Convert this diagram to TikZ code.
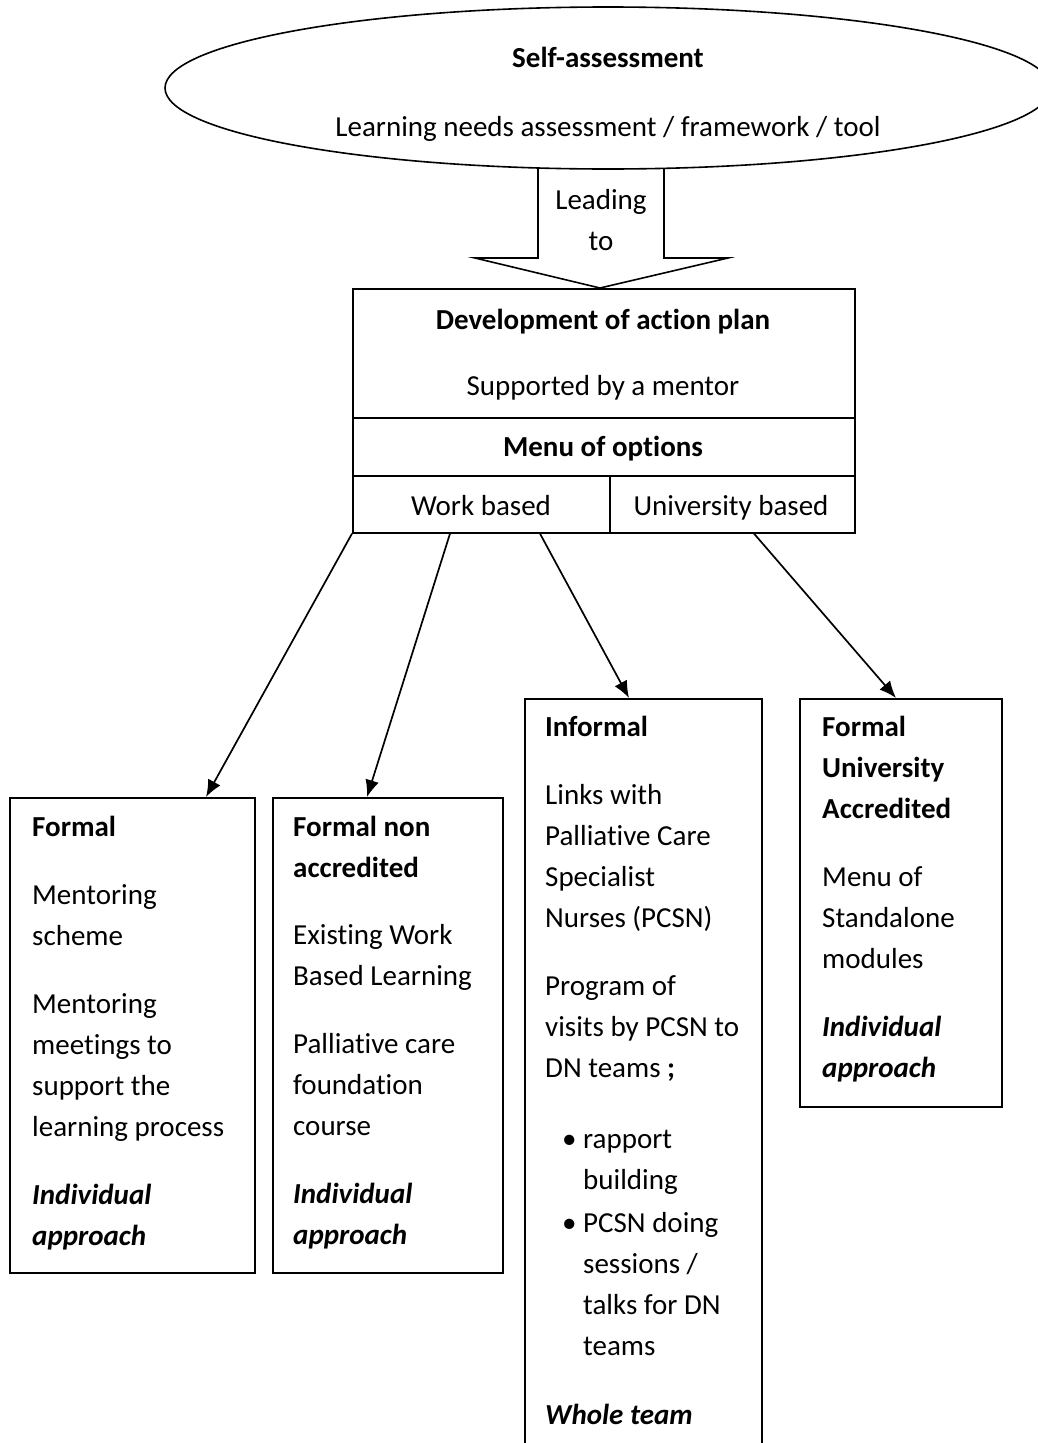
\documentclass[tikz,border=0pt]{standalone}
\usepackage{fontspec}
\setmainfont[Ligatures=NoCommon]{Carlito}
\usetikzlibrary{shapes.geometric,arrows.meta}
\tikzset{
  lw/.style={line width=1.6pt},
  boxnode/.style={draw, line width=1.6pt, rectangle, inner sep=0pt, anchor=north west},
  txt/.style={inner sep=0pt, font=\fontsize{29pt}{41pt}\selectfont},
  ctxt/.style={txt, anchor=mid, yshift=-7pt},
  boxtxt/.style={txt, anchor=base west, text width=260pt, align=flush left},
  arr/.style={-{Latex[length=17pt,width=14pt]}, line width=1.7pt},
}
\begin{document}
\begin{tikzpicture}[x=1pt,y=-1pt]
\useasboundingbox (0,0) rectangle (1038,1443);
% ellipse
\node[draw, ellipse, lw, minimum width=886pt, minimum height=162pt, inner sep=0pt] (ell) at (608,88) {};
\node[ctxt] (selfa) at (608,58) {\textbf{Self-assessment}};
\node[ctxt] (lna) at (608,127) {Learning needs assessment / framework / tool};
% block arrow
\draw[lw] (538,168) -- (538,258) -- (475,258) -- (600,288) -- (728,258) -- (664,258) -- (664,168);
\node[ctxt] (lead1) at (601,200) {Leading};
\node[ctxt] (lead2) at (601,241) {to};
% main box
\node[boxnode, minimum width=502pt, minimum height=244pt] (main) at (352,288) {};
\draw[lw] (352,418) -- (854,418);
\draw[lw] (352,476) -- (854,476);
\draw[lw] (610,476) -- (610,532);
\node[ctxt] (dev) at (603,320) {\textbf{Development of action plan}};
\node[ctxt] (sup) at (603,386) {Supported by a mentor};
\node[ctxt] (menu) at (603,447) {\textbf{Menu of options}};
\node[ctxt] (work) at (481,506) {Work based};
\node[ctxt] (univb) at (731,506) {University based};
% lower boxes
\node[boxnode, minimum width=245pt, minimum height=475pt] (formal) at (9,797) {};
\node[boxnode, minimum width=230pt, minimum height=475pt] (nonacc) at (272,797) {};
\node[boxnode, minimum width=237pt, minimum height=780pt] (informal) at (524,698) {};
\node[boxnode, minimum width=202pt, minimum height=408pt] (univ) at (799,698) {};
% texts
\node[boxtxt] (formaltxt) at (32,836) {\textbf{Formal}\\[27pt]Mentoring\\scheme\\[27pt]Mentoring\\meetings to\\support the\\learning process\\[27pt]\textbf{\textit{Individual}}\\\textbf{\textit{approach}}};
\node[boxtxt] (nonacctxt) at (293,836) {\textbf{Formal non}\\\textbf{accredited}\\[26pt]Existing Work\\Based Learning\\[27pt]Palliative care\\foundation\\course\\[27pt]\textbf{\textit{Individual}}\\\textbf{\textit{approach}}};
\node[boxtxt] (informaltxt) at (545,736) {\textbf{Informal}\\[27pt]Links with\\Palliative Care\\Specialist\\Nurses (PCSN)\\[27pt]Program of\\visits by PCSN to\\DN teams \textbf{;}\\[30pt]\hspace*{17pt}\makebox[21pt][l]{•}rapport\\\hspace*{38pt}building\\[2pt]\hspace*{17pt}\makebox[21pt][l]{•}PCSN doing\\\hspace*{38pt}sessions /\\\hspace*{38pt}talks for DN\\\hspace*{38pt}teams\\[28pt]\textbf{\textit{Whole team}}};
\node[boxtxt] (univtxt) at (822,736) {\textbf{Formal}\\\textbf{University}\\\textbf{Accredited}\\[27pt]Menu of\\Standalone\\modules\\[27pt]\textbf{\textit{Individual}}\\\textbf{\textit{approach}}};
% connectors
\draw[arr] (main.south west) -- ([xshift=197pt]formal.north west);
\draw[arr] ([xshift=98pt]main.south west) -- ([xshift=95pt]nonacc.north west);
\draw[arr] ([xshift=188pt]main.south west) -- ([xshift=105pt]informal.north west);
\draw[arr] ([xshift=402pt]main.south west) -- ([xshift=97pt]univ.north west);
\end{tikzpicture}
\end{document}
